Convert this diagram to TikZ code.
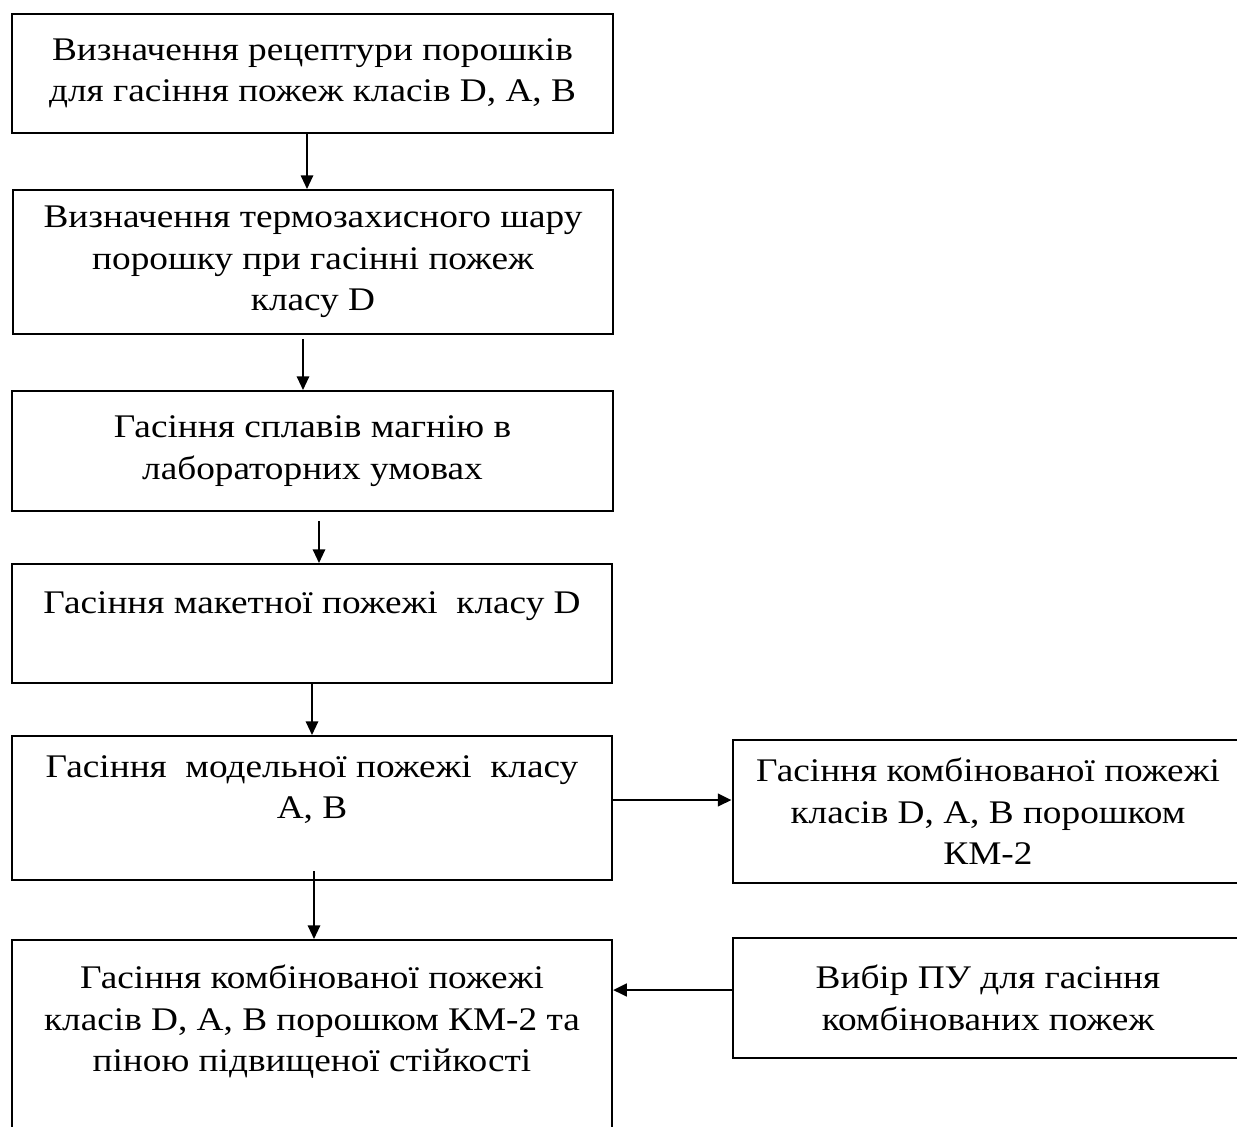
\documentclass[tikz,border=0pt]{standalone}
\usepackage{fontspec}
\setmainfont{Liberation Serif}[FakeStretch=1.13]
\usetikzlibrary{arrows.meta}
\tikzset{
    stagebox/.style = {draw, line width=0.8pt, rectangle, inner sep=0pt, align=center,
        font=\fontsize{13.2pt}{16.6pt}\selectfont},
    flowarrow/.style = {line width=0.7pt, -{Triangle[length=5.5pt, width=5pt]}}
}

\begin{document}
\begin{tikzpicture}[x=0.4pt, y=-0.4pt]
        \useasboundingbox (0, 0) rectangle (1237, 1126);
        \clip (0, 0) rectangle (1237, 1126);
        % left column of stages
        \node[stagebox, minimum width=601*0.4pt, minimum height=119*0.4pt] (b1) at (312.5, 73.5)
            {Визначення рецептури порошків\\для гасіння пожеж класів D, A, B};
        \node[stagebox, minimum width=600*0.4pt, minimum height=144*0.4pt] (b2) at (313, 262)
            {Визначення термозахисного шару\\порошку при гасінні пожеж\\класу D};
        \node[stagebox, minimum width=601*0.4pt, minimum height=120*0.4pt] (b3) at (312.5, 451)
            {Гасіння сплавів магнію в\\лабораторних умовах};
        \node[stagebox, minimum width=600*0.4pt, minimum height=119*0.4pt] (b4) at (312, 623.5)
            {Гасіння макетної пожежі\ \ класу D\\\mbox{}};
        \node[stagebox, minimum width=600*0.4pt, minimum height=144*0.4pt] (b5) at (312, 808)
            {Гасіння\ \ модельної пожежі\ \ класу\\A, B\\\mbox{}};
        \node[stagebox, minimum width=600*0.4pt, minimum height=240*0.4pt] (b7) at (312, 1060)
            {Гасіння комбінованої пожежі\\класів D, A, B порошком КМ-2 та\\піною підвищеної стійкості\\\mbox{}\\\mbox{}};
        % right column
        \node[stagebox, minimum width=511*0.4pt, minimum height=143*0.4pt] (b6) at (988, 811.5)
            {Гасіння комбінованої пожежі\\класів D, A, B порошком\\КМ-2};
        \node[stagebox, minimum width=511*0.4pt, minimum height=120*0.4pt] (b8) at (988, 998)
            {Вибір ПУ для гасіння\\комбінованих пожеж};
        % arrows between stages
        \draw[flowarrow] (b1.south -| 307,0) -- (b2.north -| 307,0);
        \draw[flowarrow] (b2.south -| 303,0) ++(0, 4) -- (b3.north -| 303,0);
        \draw[flowarrow] (b3.south -| 319,0) ++(0, 9) -- (b4.north -| 319,0);
        \draw[flowarrow] (b4.south -| 312,0) -- (b5.north -| 312,0);
        \draw[flowarrow] (b5.south -| 314,0) ++(0, -10) -- (b7.north -| 314,0);
        \draw[flowarrow, line width=1.1pt] (b5.east |- 0,800) -- (b6.west |- 0,800);
        \draw[flowarrow, line width=1.1pt] (b8.west |- 0,990) -- (b7.east |- 0,990);
    \end{tikzpicture}
\end{document}
